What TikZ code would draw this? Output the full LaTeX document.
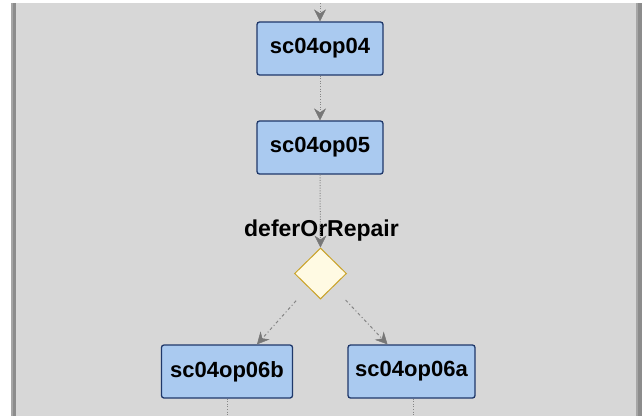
\documentclass[tikz,border=0pt]{standalone}
\usepackage{fontspec}
\setmainfont{Liberation Sans}
\usetikzlibrary{shapes.geometric,arrows.meta}
\definecolor{panel}{HTML}{D7D7D7}
\definecolor{frameA}{HTML}{8C8C8C}
\definecolor{frameB}{HTML}{A6A6A6}
\definecolor{boxfill}{HTML}{AACAF0}
\definecolor{boxline}{HTML}{1F386A}
\definecolor{diafill}{HTML}{FFFAE3}
\definecolor{dialine}{HTML}{C9A227}
\definecolor{conn}{HTML}{858585}
\definecolor{tipcol}{HTML}{777777}
\tikzset{
  opbox/.style={draw=boxline, fill=boxfill, line width=1.3pt, rounded corners=2.5pt,
    inner sep=0pt, minimum height=53pt, font=\bfseries\fontsize{22}{26}\selectfont},
  decision/.style={shape=diamond, draw=dialine, fill=diafill, line width=1pt,
    inner sep=0pt, minimum width=52pt, minimum height=51pt},
  dotconn/.style={draw=conn, line width=1pt, dash pattern=on 1pt off 1.6pt},
  dashconn/.style={draw=conn, line width=1pt, dash pattern=on 3pt off 2.5pt on 1pt off 2.5pt},
  tip/.style={-{Stealth[length=12pt,width=12pt,inset=4pt,fill=tipcol,color=tipcol,line width=0.5pt]}},
  lbl/.style={font=\bfseries\fontsize{23}{27}\selectfont, inner sep=0pt}
}
\begin{document}
\begin{tikzpicture}[x=1pt,y=-1pt]
\useasboundingbox (0,0) rectangle (642,416);
% panel
\fill[white] (0,0) rectangle (642,416);
\fill[panel] (11,3) rectangle (642,416);
\fill[frameB] (11,3) rectangle (13,416);
\fill[frameA] (13,3) rectangle (16,416);
\fill[frameB] (636,3) rectangle (637.5,416);
\fill[frameA] (637.5,3) rectangle (642,416);
% nodes
\node[opbox, minimum width=126pt] (n4) at (320,48.5) {sc04op04};
\node[opbox, minimum width=126pt] (n5) at (320,147.5) {sc04op05};
\node[decision] (dia) at (320.5,273.5) {};
\node[lbl, anchor=base] (lab) at (321.5,236) {deferOrRepair};
\node[opbox, minimum width=131pt] (n6b) at (227,371.5) {sc04op06b};
\node[opbox, minimum width=127pt] (n6a) at (411.5,371.5) {sc04op06a};
\coordinate (top) at (320,3);
\coordinate (bot1) at (227,416);
\coordinate (bot2) at (413,416);
% connectors
\draw[dotconn, tip] (top) -- (n4.north);
\draw[dotconn, tip] (n4.south) -- (n5.north);
\draw[dotconn, tip] (n5.south) -- (dia.north);
\draw[dashconn, tip, shorten <=18pt] (dia) -- ([xshift=30pt]n6b.north);
\draw[dashconn, tip, shorten <=18pt] (dia) -- ([xshift=-24pt]n6a.north);
\draw[dotconn] (n6b.south) -- (bot1);
\draw[dotconn] (n6a.south -| bot2) -- (bot2);
\end{tikzpicture}
\end{document}
